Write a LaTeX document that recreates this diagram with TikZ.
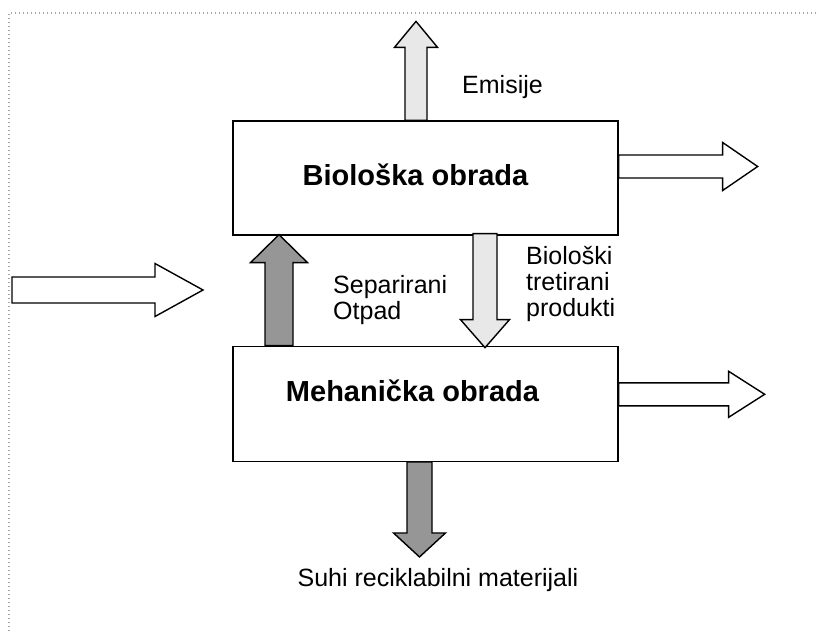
\documentclass[tikz,border=0pt]{standalone}
\usepackage{fontspec}
\setmainfont{Liberation Sans}
\usepackage{xcolor}
\usetikzlibrary{positioning, calc}

\definecolor{lightfill}{HTML}{E8E8E8}
\definecolor{darkfill}{HTML}{969696}
\definecolor{framegray}{HTML}{A6A6A6}

% block arrow: [style]{start}{tip}{shaft half width}{head half width}{head length}
\newcommand{\blockarrow}[6][]{%
  \coordinate (ba-h) at ($(#3)!#6!(#2)$);
  \draw[flowarrow,#1] ($(#2)!#4!90:(#3)$) -- ($(ba-h)!#4!-90:(#2)$)
    -- ($(ba-h)!#5!-90:(#2)$) -- (#3) -- ($(ba-h)!#5!90:(#2)$)
    -- ($(ba-h)!#4!90:(#2)$) -- ($(#2)!#4!-90:(#3)$) -- cycle;}

\begin{document}
\begin{tikzpicture}[x=1pt, y=-1pt,
 procbox/.style={rectangle, draw=black, line width=1.3pt, fill=white,
   minimum width=385pt, minimum height=114pt, inner sep=0pt},
 boxtitle/.style={font=\fontsize{29}{34}\selectfont\bfseries},
 lbl/.style={font=\fontsize{25}{26}\selectfont, inner sep=0pt, align=left},
 flowarrow/.style={draw=black, line width=1.4pt, fill=white},
 lightarrow/.style={flowarrow, fill=lightfill},
 darkarrow/.style={flowarrow, fill=darkfill},
 frameline/.style={draw=framegray, line width=1.3pt, dash pattern=on 1.3pt off 2.7pt}
]
\useasboundingbox (0,0) rectangle (816,632);
\draw[frameline] (816,13) -- (9,13) -- (9,632);

\node[procbox, label={[boxtitle, xshift=-10pt, yshift=3.5pt]center:Biološka obrada}] (bio) at (425.5,178) {};
\node[procbox, minimum height=115pt, below=110pt of bio,
  label={[boxtitle, xshift=-13pt, yshift=13pt]center:Mehanička obrada}] (meh) {};

% arrow ends
\coordinate (emisbase) at ($(bio.north)+(-9.5,0)$);
\coordinate (emistip) at ($(bio.north)+(-9.5,-99)$);
\coordinate (bioout) at ($(bio.east)+(0,-11.5)$);
\coordinate (biotip) at ($(bioout)+(139,0)$);
\coordinate (intail) at (12,290);
\coordinate (inhead) at (203,290);
\coordinate (sepbase) at ($(meh.north)+(-146.5,0)$);
\coordinate (septip) at ($(bio.south)+(-146.5,-1)$);
\coordinate (dnbase) at ($(bio.south)+(59.5,-2)$);
\coordinate (dntip) at ($(meh.north)+(59.5,2)$);
\coordinate (mehout) at ($(meh.east)+(0,-9.5)$);
\coordinate (mehtip) at ($(mehout)+(146,0)$);
\coordinate (suhibase) at ($(meh.south)+(-6,0)$);
\coordinate (suhitip) at ($(meh.south)+(-6,95)$);

\blockarrow[lightarrow]{emisbase}{emistip}{11pt}{21.5pt}{26pt}
\blockarrow{bioout}{biotip}{11.5pt}{24pt}{35pt}
\blockarrow{intail}{inhead}{13pt}{26.5pt}{48pt}
\blockarrow[darkarrow]{sepbase}{septip}{14pt}{28.5pt}{28pt}
\blockarrow[lightarrow]{dnbase}{dntip}{12pt}{24.5pt}{28pt}
\blockarrow{mehout}{mehtip}{11.5pt}{23pt}{36pt}
\blockarrow[darkarrow]{suhibase}{suhitip}{12.5pt}{26pt}{24pt}

\node[lbl, anchor=base west] (emislbl) at (462,93) {Emisije};
\node[lbl, anchor=north west] (seplbl) at (333,275) {Separirani\\Otpad};
\node[lbl, anchor=north west] (dnlbl) at (526,246) {Biološki\\tretirani\\produkti};
\node[lbl, anchor=base] (suhilbl) at (438,586) {Suhi reciklabilni materijali};
\end{tikzpicture}
\end{document}
